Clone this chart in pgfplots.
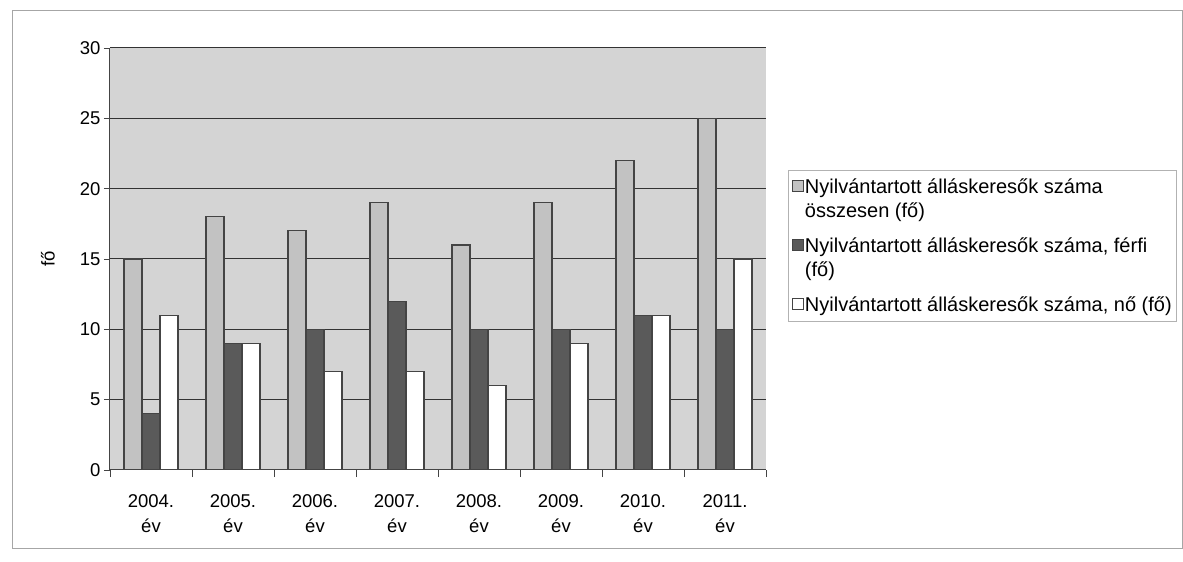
\documentclass[border=0pt]{standalone}
\usepackage{fontspec}
\setmainfont{Liberation Sans}
\usepackage{pgfplots}
\pgfplotsset{compat=1.18}
\definecolor{bg}{HTML}{D4D4D4}
\definecolor{totc}{HTML}{C2C2C2}
\definecolor{menc}{HTML}{5A5A5A}
\definecolor{edge}{HTML}{444444}
\pgfplotsset{
  legtwo/.style={legend image code/.code={\draw[##1, line width=0.6pt] (0pt,7.5pt) rectangle (11pt,18.5pt);}},
  legone/.style={legend image code/.code={\draw[##1, line width=0.6pt] (0pt,-4.5pt) rectangle (11pt,6.5pt);}},
}
\begin{document}
\begin{tikzpicture}
\path[use as bounding box] (0,0) rectangle (1183pt,562pt);
\draw[color=gray!70, line width=0.8pt] (12pt,14pt) rectangle (1182pt,552pt);
\begin{axis}[
  at={(110pt,92pt)}, anchor=south west,
  scale only axis, width=656pt, height=422pt,
  ybar=0pt, bar width=18pt,
  xmin=-0.5, xmax=7.5, ymin=0, ymax=30,
  ytick={0,5,...,30},
  xtick={0,...,7},
  xticklabels={{2004.\\év},{2005.\\év},{2006.\\év},{2007.\\év},{2008.\\év},{2009.\\év},{2010.\\év},{2011.\\év}},
  xticklabel style={align=center, font=\fontsize{18.5}{25}\selectfont, yshift=-15pt},
  yticklabel style={font=\fontsize{18.5}{22}\selectfont},
  /pgf/number format/assume math mode=true,
  major x tick style={draw=none},
  minor xtick={-0.5,0.5,...,7.5},
  minor tick length=7pt,
  major tick length=6pt,
  tick align=outside,
  axis x line*=bottom, axis y line*=left,
  axis line style={draw=edge, line width=1pt},
  tick style={draw=edge, line width=0.8pt},
  ymajorgrids, grid style={draw=black!80, line width=1pt},
  axis background/.style={fill=bg},
  ylabel={fő}, ylabel style={font=\fontsize{18.5}{22}\selectfont, at={(axis description cs:0,0.5)}, anchor=center, yshift=62pt},
  legend style={at={(1.0335,0.711)}, anchor=north west, draw=gray!60, line width=0.8pt,
    font=\fontsize{20}{24}\selectfont, inner xsep=4pt, inner ysep=7pt,
    nodes={inner sep=1pt},
    cells={align=left}, row sep=17pt},
  legend cell align=left,
]
\addplot[fill=totc, draw=edge, line width=1.2pt, legtwo]
  coordinates {(0,15) (1,18) (2,17) (3,19) (4,16) (5,19) (6,22) (7,25)};
\addplot[fill=menc, draw=edge, line width=1.2pt, legtwo]
  coordinates {(0,4) (1,9) (2,10) (3,12) (4,10) (5,10) (6,11) (7,10)};
\addplot[fill=white, draw=edge, line width=1.2pt, legone]
  coordinates {(0,11) (1,9) (2,7) (3,7) (4,6) (5,9) (6,11) (7,15)};
\legend{{Nyilvántartott álláskeresők száma\\összesen (fő)},{Nyilvántartott álláskeresők száma, férfi\\(fő)},{Nyilvántartott álláskeresők száma, nő (fő)}}
\end{axis}
\end{tikzpicture}
\end{document}
